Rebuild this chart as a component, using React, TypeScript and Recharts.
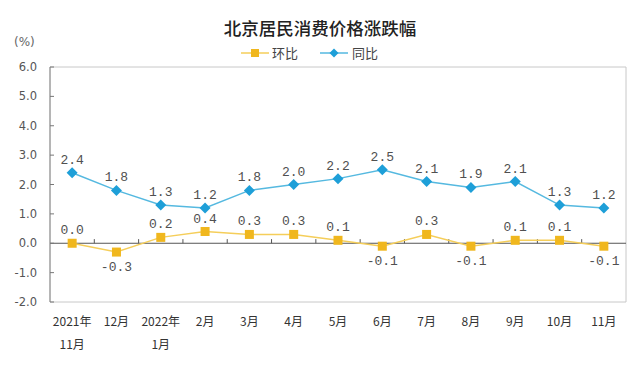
import React from 'react';
import { LineChart, Line, XAxis, YAxis, ReferenceLine, ReferenceArea, LabelList, Legend } from 'recharts';

const months = ['2021年\n11月', '12月', '2022年\n1月', '2月', '3月', '4月', '5月', '6月', '7月', '8月', '9月', '10月', '11月'];
const huanbi = [0.0, -0.3, 0.2, 0.4, 0.3, 0.3, 0.1, -0.1, 0.3, -0.1, 0.1, 0.1, -0.1];
const tongbi = [2.4, 1.8, 1.3, 1.2, 1.8, 2.0, 2.2, 2.5, 2.1, 1.9, 2.1, 1.3, 1.2];
const yTicks = [-2, -1, 0, 1, 2, 3, 4, 5, 6];

const data = months.map((m, i) => ({ month: m, huanbi: huanbi[i], tongbi: tongbi[i] }));

const YELLOW_LINE = '#F5CE5A';
const YELLOW_DOT = '#F0B71E';
const BLUE_LINE = '#55B9E0';
const BLUE_DOT = '#1E9FD8';
const CJK = '"Noto Sans CJK SC", "Noto Sans", sans-serif';
const MONO = '"Liberation Mono", "DejaVu Sans Mono", monospace';

const XTick = (props: any) => {
  const { x, y, payload } = props;
  const lines = String(payload.value).split('\n');
  return (
    <g>
      {lines.map((t, i) => (
        <text key={i} x={x} y={y + 16 + i * 23} textAnchor="middle" fontSize={12} fill="#333" fontFamily={CJK}>
          {t}
        </text>
      ))}
    </g>
  );
};

const YTick = (props: any) => {
  const { x, y, payload } = props;
  return (
    <g>
      <text x={x} y={y + 4} textAnchor="end" fontSize={11.5} fill="#555" fontFamily='"DejaVu Sans", sans-serif'>
        {Number(payload.value).toFixed(1)}
      </text>
      <line x1={x + 13} x2={x + 17} y1={y} y2={y} stroke="#777" strokeWidth={1} />
    </g>
  );
};

const SquareDot = (props: any) => {
  const { cx, cy } = props;
  if (cx == null || cy == null) return null;
  return <rect x={cx - 4.5} y={cy - 4.5} width={9} height={9} fill={YELLOW_DOT} />;
};

const DiamondDot = (props: any) => {
  const { cx, cy } = props;
  if (cx == null || cy == null) return null;
  const r = 5.5;
  return <path d={`M${cx},${cy - r}L${cx + r},${cy}L${cx},${cy + r}L${cx - r},${cy}Z`} fill={BLUE_DOT} />;
};

const makeLabel = (signAware: boolean) => (props: any) => {
  const { x, y, value } = props;
  if (x == null || y == null) return null;
  const below = signAware && value < 0;
  return (
    <text
      x={x}
      y={below ? y + 19 : y - 9}
      textAnchor="middle"
      fontSize={13}
      fill="#505050"
      fontFamily={MONO}
    >
      {Number(value).toFixed(1)}
    </text>
  );
};

const LegendContent = () => (
  <div style={{ position: 'relative', width: 640, height: 16, fontFamily: CJK, fontSize: 13, color: '#444' }}>
    <svg width={28} height={10} style={{ position: 'absolute', left: 241, top: 3 }}>
      <line x1={0} x2={28} y1={5} y2={5} stroke={YELLOW_LINE} strokeWidth={1.5} />
      <rect x={10} y={1} width={8} height={8} fill={YELLOW_DOT} />
    </svg>
    <span style={{ position: 'absolute', left: 272, top: -2 }}>环比</span>
    <svg width={28} height={10} style={{ position: 'absolute', left: 320, top: 3 }}>
      <line x1={0} x2={28} y1={5} y2={5} stroke={BLUE_LINE} strokeWidth={1.5} />
      <path d="M14,0.5L18.5,5L14,9.5L9.5,5Z" fill={BLUE_DOT} />
    </svg>
    <span style={{ position: 'absolute', left: 352, top: -2 }}>同比</span>
  </div>
);

export default function App() {
  return (
    <div style={{ position: 'absolute', left: 0, top: 0, width: 640, height: 371, background: '#fff' }}>
      <div style={{ position: 'absolute', top: 15, left: 0, width: 640, textAlign: 'center', fontFamily: CJK, fontSize: 17.5, fontWeight: 500, color: '#222' }}>
        北京居民消费价格涨跌幅
      </div>
      <div style={{ position: 'absolute', top: 35, left: 14, fontFamily: '"DejaVu Sans", sans-serif', fontSize: 12, color: '#666' }}>
        (%)
      </div>
      <LineChart width={640} height={371} data={data} margin={{ top: 67, right: 14, bottom: 0, left: 0 }}>
        <ReferenceArea y1={-2} y2={6} fill="none" stroke="#C8C8C8" strokeWidth={1} ifOverflow="visible" />
        <XAxis dataKey="month" scale="band" axisLine={false} tickLine={false} tick={<XTick />} interval={0} height={69} />
        <YAxis
          domain={[-2, 6]}
          ticks={yTicks}
          interval={0}
          width={50}
          axisLine={{ stroke: '#888' }}
          tickLine={false}
          tickSize={6}
          tickMargin={7}
          tick={<YTick />}
          allowDataOverflow
        />
        <ReferenceLine y={0} stroke="#555" strokeWidth={1} />
        {months.slice(1).map((m) => (
          <ReferenceLine
            key={m}
            segment={[{ x: m, y: 0 }, { x: m, y: 0.14 }]}
            position="start"
            stroke="#555"
            strokeWidth={1}
          />
        ))}
        <Legend verticalAlign="middle" layout="horizontal" content={<LegendContent />} wrapperStyle={{ top: 45, left: 0, width: 640 }} />
        <Line
          name="环比"
          dataKey="huanbi"
          stroke={YELLOW_LINE}
          strokeWidth={1.5}
          dot={<SquareDot />}
          activeDot={false}
          isAnimationActive={false}
        >
          <LabelList dataKey="huanbi" content={makeLabel(true)} />
        </Line>
        <Line
          name="同比"
          dataKey="tongbi"
          stroke={BLUE_LINE}
          strokeWidth={1.5}
          dot={<DiamondDot />}
          activeDot={false}
          isAnimationActive={false}
        >
          <LabelList dataKey="tongbi" content={makeLabel(false)} />
        </Line>
      </LineChart>
    </div>
  );
}
